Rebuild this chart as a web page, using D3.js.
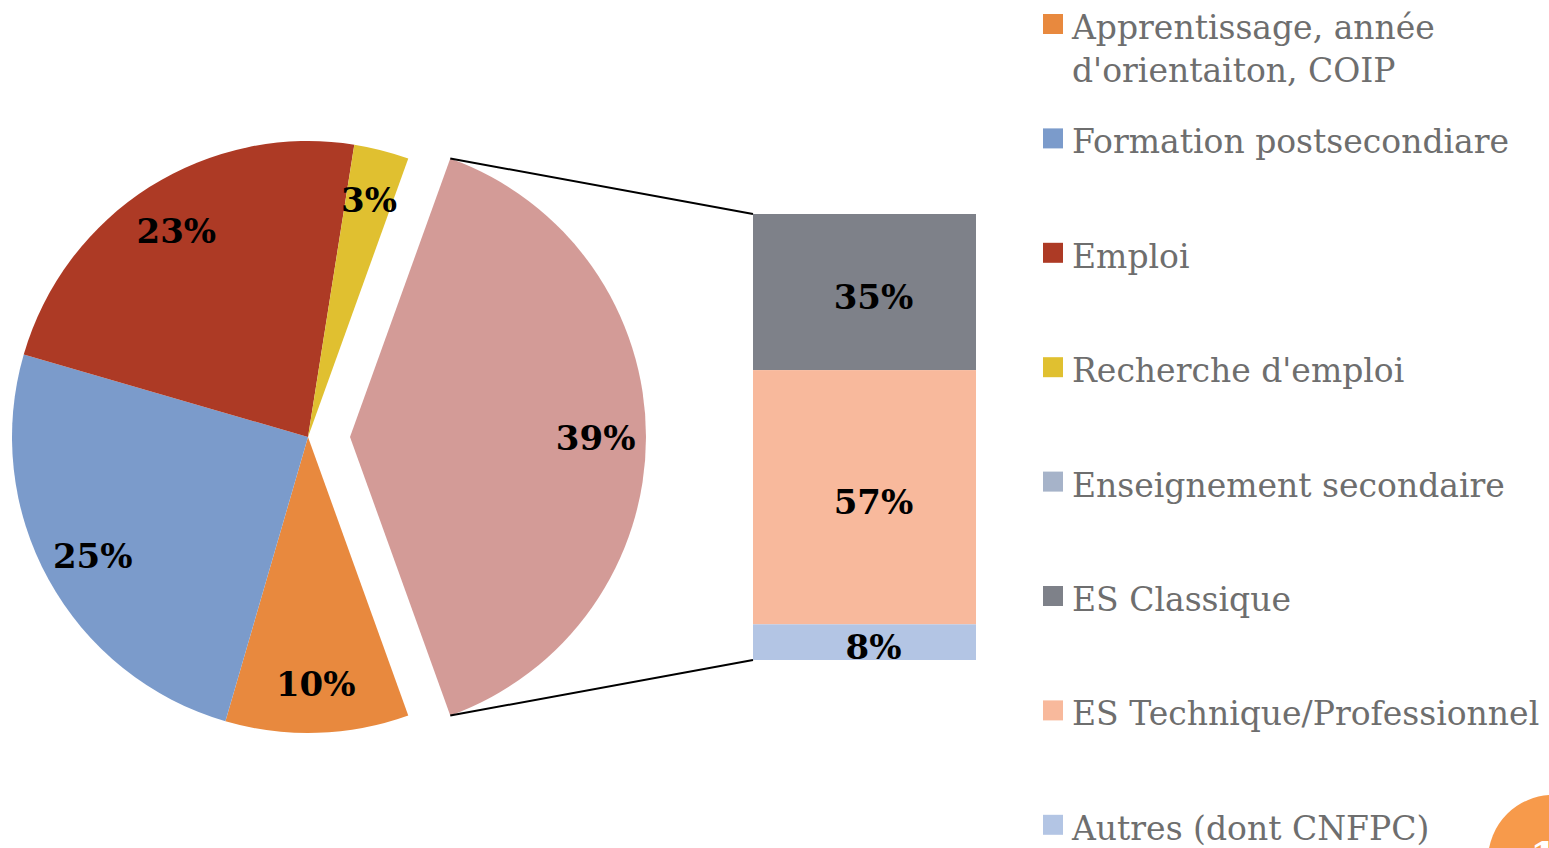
<!DOCTYPE html>
<html lang="fr">
<head>
  <meta charset="UTF-8">
  <title>Pie of pie</title>
  <script src="https://d3js.org/d3.v7.min.js"></script>
  <style>
    body { margin: 0; background: #fff; }
    text { font-family: "DejaVu Serif", serif; }
    .label { font-weight: bold; fill: #000; text-anchor: middle; }
    .legend text { fill: #6e6e6e; }
  </style>
</head>
<body>
  <div id="chart"></div>
  <script>
    // main pie
    const pieCats = ["Apprentissage, année d'orientaiton, COIP", "Formation postsecondiare", "Emploi", "Recherche d'emploi", "Enseignement secondaire"];
    const pieValues = [10, 25, 23, 3, 39];
    const pieColors = ["#e8893e", "#7b9bcb", "#ad3a25", "#e0c030", "#d39b97"];

    // secondary bar (breakdown of Enseignement secondaire)
    const barCats = ["ES Classique", "ES Technique/Professionnel", "Autres (dont CNFPC)"];
    const barValues = [35, 57, 8];
    const barColors = ["#7e8189", "#f8b99c", "#b3c5e4"];

    const legendLabels = [["Apprentissage, année", "d'orientaiton, COIP"], ["Formation postsecondiare"], ["Emploi"],
      ["Recherche d'emploi"], ["Enseignement secondaire"], ["ES Classique"], ["ES Technique/Professionnel"], ["Autres (dont CNFPC)"]];
    const legendColors = ["#e8893e", "#7b9bcb", "#ad3a25", "#e0c030", "#a6b3c9", "#7e8189", "#f8b99c", "#b3c5e4"];

    const width = 1549, height = 848;
    const svg = d3.select('#chart').append('svg')
      .attr('width', width).attr('height', height);

    const cx = 308, cy = 437, r = 296, explode = 42;
    const otherFrac = pieValues[4] / d3.sum(pieValues);
    const start = Math.PI / 2 + otherFrac * Math.PI;

    const pie = d3.pie().sort(null).startAngle(start).endAngle(start + 2 * Math.PI);
    const arcs = pie(pieValues);
    const arc = d3.arc().innerRadius(0).outerRadius(r);
    const labelArc = d3.arc().innerRadius(r * 0.83).outerRadius(r * 0.83);

    const g = svg.append('g').attr('transform', `translate(${cx},${cy})`);
    const slice = g.selectAll('g.slice').data(arcs).enter().append('g')
      .attr('class', 'slice')
      .attr('transform', (d, i) => i === 4 ? `translate(${explode},0)` : null);
    slice.append('path').attr('d', arc).attr('fill', (d, i) => pieColors[i]);
    slice.append('text').attr('class', 'label')
      .attr('x', d => labelArc.centroid(d)[0])
      .attr('y', d => labelArc.centroid(d)[1] + 13)
      .style('font-size', '34px')
      .text(d => d.data + '%');

    // stacked bar
    const bx0 = 753, bx1 = 976;
    const y = d3.scaleLinear().domain([0, d3.sum(barValues)]).range([214, 660]);
    const cum = d3.cumsum(barValues);
    const bars = svg.selectAll('g.bar').data(barValues).enter().append('g').attr('class', 'bar');
    bars.append('rect')
      .attr('x', bx0).attr('width', bx1 - bx0)
      .attr('y', (d, i) => y(cum[i] - d))
      .attr('height', d => y(d) - y(0))
      .attr('fill', (d, i) => barColors[i]);
    bars.append('text').attr('class', 'label')
      .attr('x', (bx0 + bx1) / 2 + 9)
      .attr('y', (d, i) => y(cum[i] - d / 2) + 17)
      .style('font-size', '34px')
      .text(d => d + '%');

    // connector lines
    const o = arcs[4];
    const pTop = [cx + explode + r * Math.sin(o.startAngle), cy - r * Math.cos(o.startAngle)];
    const pBot = [cx + explode + r * Math.sin(o.endAngle), cy - r * Math.cos(o.endAngle)];
    svg.append('line').attr('x1', pTop[0]).attr('y1', pTop[1]).attr('x2', bx0).attr('y2', y(0))
      .attr('stroke', '#000').attr('stroke-width', 2);
    svg.append('line').attr('x1', pBot[0]).attr('y1', pBot[1]).attr('x2', bx0).attr('y2', y(d3.sum(barValues)))
      .attr('stroke', '#000').attr('stroke-width', 2);

    // legend
    const leg = svg.append('g').attr('class', 'legend');
    const item = leg.selectAll('g').data(legendLabels).enter().append('g')
      .attr('transform', (d, i) => `translate(1043,${24 + i * 114.4})`);
    item.append('rect').attr('x', 0).attr('y', -10).attr('width', 20).attr('height', 20)
      .attr('fill', (d, i) => legendColors[i]);
    item.append('text').attr('x', 29).attr('y', 15).style('font-size', '33px')
      .selectAll('tspan').data(d => d).enter().append('tspan')
      .attr('x', 29).attr('dy', (d, i) => i === 0 ? 0 : 43)
      .text(d => d);

    // slide number badge
    svg.append('circle').attr('cx', 1553).attr('cy', 860).attr('r', 65).attr('fill', '#f79a4b');
    svg.append('text').attr('x', 1530).attr('y', 870).attr('fill', '#fff')
      .style('font-size', '40px').style('font-weight', 'bold').text('1');
  </script>
</body>
</html>
